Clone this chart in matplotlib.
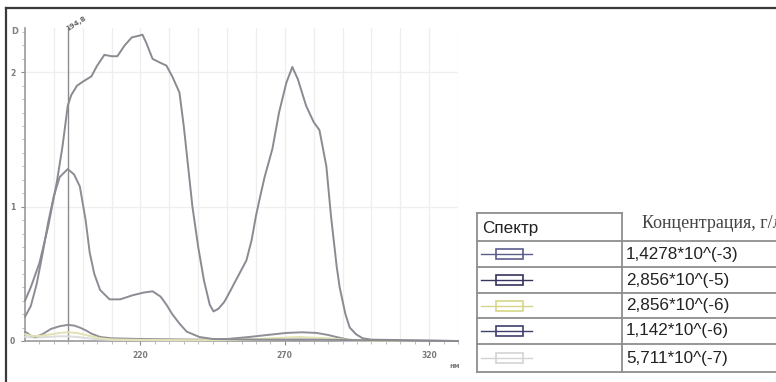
import matplotlib
matplotlib.use("Agg")
import matplotlib.pyplot as plt
from matplotlib.patches import Rectangle
from matplotlib.lines import Line2D

# Absorption spectra, wavelength in nm vs optical density D
wl_1 = [180, 182, 185, 188, 191, 193, 194.8, 196, 198, 200, 203, 205, 207.5, 210, 212, 214.5,
        217, 219, 220.7, 222, 224.2, 227, 229, 231, 233.5, 235, 236.5, 238, 240, 242, 244,
        245.3, 247, 249, 250.8, 253, 256.7, 258.5, 260, 261.2, 263, 265.7, 268, 270.5, 272.6,
        274.5, 277.4, 280, 282, 284.4, 286, 288, 289, 291, 292.5, 294.7, 297, 300, 330]
d_1 = [0.30, 0.40, 0.58, 0.85, 1.18, 1.45, 1.75, 1.83, 1.90, 1.93, 1.97, 2.05, 2.13, 2.12, 2.12,
       2.20, 2.26, 2.27, 2.28, 2.22, 2.10, 2.07, 2.05, 1.97, 1.85, 1.60, 1.30, 1.00, 0.70, 0.45,
       0.27, 0.22, 0.24, 0.29, 0.36, 0.45, 0.60, 0.75, 0.93, 1.05, 1.22, 1.43, 1.70, 1.92, 2.04,
       1.95, 1.75, 1.63, 1.57, 1.30, 0.93, 0.55, 0.40, 0.20, 0.10, 0.05, 0.02, 0.01, 0.0]

wl_2 = [180, 182, 184, 186, 188, 190, 192, 194.8, 197, 199, 201, 202.4, 204, 206, 209.3, 213,
        217.2, 221, 224.2, 227, 229, 231, 233.5, 236, 240.4, 245, 260, 280, 300, 330]
d_2 = [0.18, 0.26, 0.42, 0.64, 0.88, 1.08, 1.22, 1.28, 1.24, 1.15, 0.90, 0.66, 0.50, 0.38, 0.31,
       0.31, 0.34, 0.36, 0.37, 0.33, 0.27, 0.20, 0.13, 0.07, 0.03, 0.015, 0.01, 0.01, 0.005, 0.0]

wl_3 = [180, 183, 186, 189, 192, 194.8, 198, 202, 206, 210, 220, 240, 255, 265, 275, 285, 292, 300, 330]
d_3 = [0.05, 0.035, 0.04, 0.05, 0.06, 0.065, 0.06, 0.04, 0.02, 0.012, 0.008, 0.006, 0.01,
       0.02, 0.03, 0.02, 0.008, 0.0, 0.0]

wl_4 = [180, 182, 183.5, 186, 189, 192, 194.8, 197, 199, 201, 203, 206, 210, 220, 240, 250,
        257.7, 264, 270.5, 276, 281, 285, 287.8, 292, 300, 330]
d_4 = [0.07, 0.04, 0.03, 0.05, 0.09, 0.11, 0.12, 0.115, 0.10, 0.08, 0.055, 0.03, 0.02, 0.015,
       0.01, 0.015, 0.03, 0.045, 0.06, 0.065, 0.06, 0.045, 0.03, 0.01, 0.0, 0.0]

wl_5 = [180, 184, 188, 192, 194.8, 198, 204, 210, 230, 260, 275, 290, 300, 330]
d_5 = [0.03, 0.025, 0.03, 0.035, 0.035, 0.03, 0.015, 0.008, 0.004, 0.008, 0.015, 0.005, 0.0, 0.0]

concentrations = ["1,4278*10^(-3)", "2,856*10^(-5)", "2,856*10^(-6)", "1,142*10^(-6)", "5,711*10^(-7)"]
icon_colors = ["#5c5c8c", "#34345e", "#d6d68a", "#40406e", "#d4d4d4"]
curve_colors = ["#8a8a92", "#8c8c94", "#e2e2b4", "#8f8f96", "#dcdcdc"]

x_ticks = [220, 270, 320]
y_ticks = [0, 1, 2]
marker_wl = 194.8

W, H = 776, 382
fig = plt.figure(figsize=(W / 100, H / 100), dpi=100)
fig.patch.set_facecolor("white")

# pixel-space overlay for the frame and the concentration table
ov = fig.add_axes([0, 0, 1, 1])
ov.set_xlim(0, W)
ov.set_ylim(H, 0)
ov.axis("off")
ov.patch.set_visible(False)

# outer frame (top and left edges)
ov.plot([6, W], [8, 8], color="#3a3a3a", lw=1.6)
ov.plot([6, 6], [8, H], color="#3a3a3a", lw=1.6)

# spectrum axes
left_px, right_px, top_px, bottom_px = 25, 458, 28, 341
ax = fig.add_axes([left_px / W, 1 - bottom_px / H, (right_px - left_px) / W, (bottom_px - top_px) / H])
ax.set_xlim(180, 330)
ax.set_ylim(0, 2.33)
ax.patch.set_visible(False)

for s in ("top", "right"):
    ax.spines[s].set_visible(False)
for s in ("left", "bottom"):
    ax.spines[s].set_color("#9a9a9a")
    ax.spines[s].set_linewidth(1.2)

ax.set_xticks(x_ticks)
ax.set_xticks(list(range(185, 331, 5)), minor=True)
ax.set_yticks(y_ticks)
ax.set_yticks([i / 10 for i in range(0, 24)], minor=True)
ax.tick_params(axis="both", which="major", colors="#8a8a8a", labelcolor="#7a7a7a",
               labelsize=5.5, length=3, width=0.8)
ax.tick_params(axis="both", which="minor", colors="#b0b0b0", length=2, width=0.6)
ax.tick_params(axis="x", pad=4)
ax.tick_params(axis="y", pad=4)
for lbl in ax.get_xticklabels() + ax.get_yticklabels():
    lbl.set_fontweight("bold")

# faint grid
for gx in range(190, 331, 10):
    ax.axvline(gx, color="#eeeeee", lw=0.9, zorder=0)
for gy in (1, 2):
    ax.axhline(gy, color="#efefef", lw=0.9, zorder=0)

series = [(wl_1, d_1), (wl_2, d_2), (wl_3, d_3), (wl_4, d_4), (wl_5, d_5)]
for (wl, d), c in zip(series[::-1], curve_colors[::-1]):
    ax.plot(wl, d, color=c, lw=1.4, solid_joinstyle="round", solid_capstyle="round",
            zorder=3, clip_on=False)

# marker at the selected wavelength
ax.axvline(marker_wl, color="#8c8c8c", lw=1.0, zorder=2)
ax.text(marker_wl, 2.30, "194,8", rotation=32, fontsize=5, fontweight="bold", color="#666666",
        ha="left", va="bottom", rotation_mode="anchor")

fig.text(15 / W, 1 - 31 / H, "D", fontsize=6, color="#808080", fontweight="bold", ha="center", va="center")
fig.text(455 / W, 1 - 366 / H, "нм", fontsize=5, color="#808080", fontweight="bold", ha="center", va="center")

# concentration table
tab_left, tab_div, tab_top = 477, 622, 213
row_lines = [241, 267, 293, 318, 344, 372]
lc = "#8e8e8e"
ov.plot([tab_left, tab_div], [tab_top, tab_top], color=lc, lw=1.3)
ov.plot([tab_left, tab_left], [tab_top, row_lines[-1]], color=lc, lw=1.3)
ov.plot([tab_div, tab_div], [tab_top, row_lines[-1]], color=lc, lw=1.3)
for y in row_lines:
    ov.plot([tab_left, W], [y, y], color=lc, lw=1.3)

ov.text(482, 229, "Спектр", fontsize=12.3, family="Liberation Sans", color="#222222",
        ha="left", va="center")
ov.text(642, 223, "Концентрация, г/л", fontsize=13, family="Liberation Serif", color="#444444",
        ha="left", va="center")

for i, (txt, col) in enumerate(zip(concentrations, icon_colors)):
    yc = (row_lines[i] + row_lines[i + 1]) / 2
    ov.add_line(Line2D([481, 532], [yc, yc], color=col, lw=1.0))
    ov.add_patch(Rectangle((496, yc - 5), 27, 10, fill=True, fc="white", ec=col, lw=1.2))
    ov.text(626, yc, txt, fontsize=12.3, family="Liberation Sans", color="#222222",
            ha="left", va="center")

fig.savefig("out.png", dpi=100)
